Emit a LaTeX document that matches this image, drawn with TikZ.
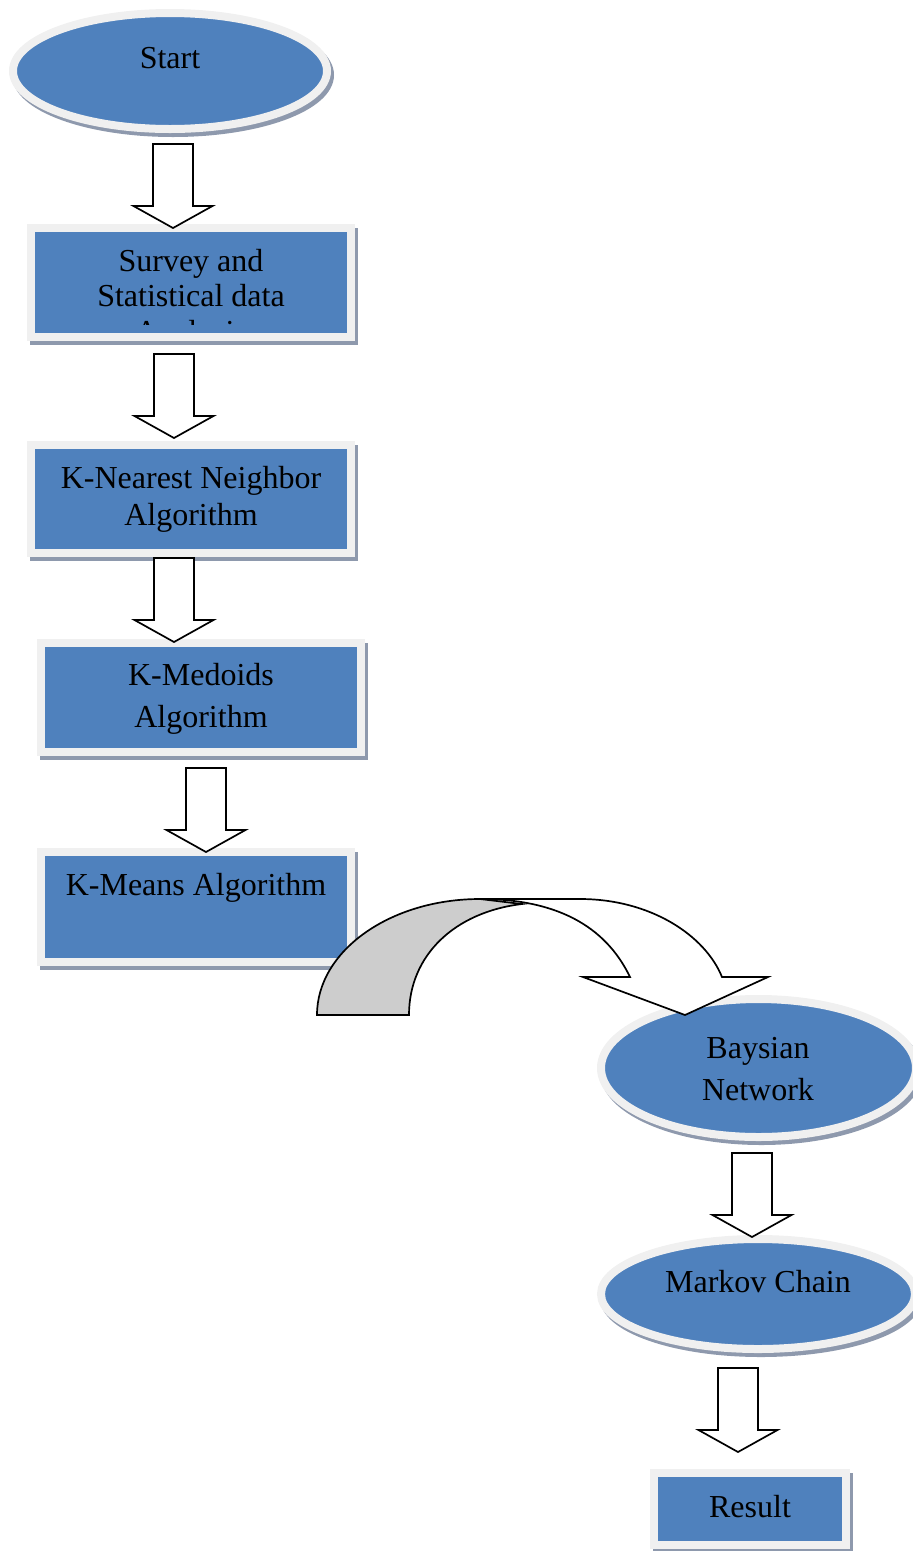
\documentclass[tikz,border=0pt]{standalone}
\usepackage{fontspec}
\setmainfont{Liberation Serif}
\usetikzlibrary{shapes.geometric}
\definecolor{ofblue}{HTML}{4F81BD}
\definecolor{ringc}{HTML}{F0F0F0}
\definecolor{shadc}{HTML}{8E99AD}
\definecolor{backc}{HTML}{CDCDCD}
\begin{document}
\begin{tikzpicture}[x=1pt,y=-1pt,
  shad/.style={preaction={draw=shadc, fill=shadc, line width=8pt, transform canvas={shift={(3pt,-4pt)}}}},
  boxbase/.style={rectangle, shad, fill=ofblue, draw=ringc, line width=8pt, inner sep=0pt},
  ovalbase/.style={ellipse, shad, fill=ofblue, draw=ringc, line width=8pt, inner sep=0pt},
  lbl/.style={font=\fontsize{32}{37}\selectfont, align=center, inner sep=0pt, text=black},
  blk/.style={draw=black, fill=white, line width=1.7pt, line join=miter},
  blockdown/.pic={\path[blk] (-20,0) -- (20,0) -- (20,62) -- (39.5,62) -- (0,84) -- (-39.5,62) -- (-20,62) -- cycle;}
]
\useasboundingbox (0,0) rectangle (913,1551);
\clip (0,0) rectangle (913,1551);

% shapes
\node[ovalbase, minimum width=314pt, minimum height=116pt] (start) at (170,71) {};
\node[boxbase, minimum width=320pt, minimum height=109pt] (survey) at (191,282.5) {};
\node[boxbase, minimum width=320pt, minimum height=108pt] (knn) at (191,499) {};
\node[boxbase, minimum width=320pt, minimum height=109pt] (medoids) at (201,697.5) {};
\node[boxbase, minimum width=310pt, minimum height=110pt] (kmeans) at (196,907) {};
\node[ovalbase, minimum width=315pt, minimum height=138pt] (bayes) at (758.5,1068) {};
\node[ovalbase, minimum width=314pt, minimum height=110pt] (markov) at (758,1294) {};
\node[boxbase, minimum width=192pt, minimum height=72pt] (result) at (750,1509) {};

% texts
\node[lbl] (tstart) at (170,58) {Start};
\begin{scope}
  \clip (35,232) rectangle (347,324);
  \node[lbl, font=\fontsize{32}{35.5}\selectfont] (tsurvey) at (191,299) {Survey and\\Statistical data\\Analysis};
\end{scope}
\node[lbl] (tknn) at (191,499) {K-Nearest Neighbor\\Algorithm};
\node[lbl, font=\fontsize{32}{42}\selectfont] (tmedoids) at (201,699) {K-Medoids\\Algorithm};
\node[lbl] (tkmeans) at (196,888) {K-Means Algorithm};
\node[lbl, font=\fontsize{32}{42}\selectfont] (tbayes) at (758,1069) {Baysian\\Network};
\node[lbl] (tmarkov) at (758,1282) {Markov Chain};
\node[lbl] (tresult) at (750,1507) {Result};

% block arrows
\pic (a1) at (173,144) {blockdown};
\pic (a2) at (174,354) {blockdown};
\pic (a3) at (174,558) {blockdown};
\pic (a4) at (206,768) {blockdown};
\pic (a5) at (752,1153) {blockdown};
\pic (a6) at (738,1368) {blockdown};

% curved arrow
\path[blk, fill=backc] (317,1015) .. controls (317,951) and (390,899) .. (480,899)
  -- (522,904) .. controls (455,912) and (409,955) .. (409,1015) -- cycle;
\path[blk] (480,899) -- (580,899) .. controls (650,899) and (705,935) .. (722,977)
  -- (768,977) -- (685,1015) -- (583,977) -- (630,977)
  .. controls (605,925) and (555,899) .. (480,899) -- cycle;
\end{tikzpicture}
\end{document}
